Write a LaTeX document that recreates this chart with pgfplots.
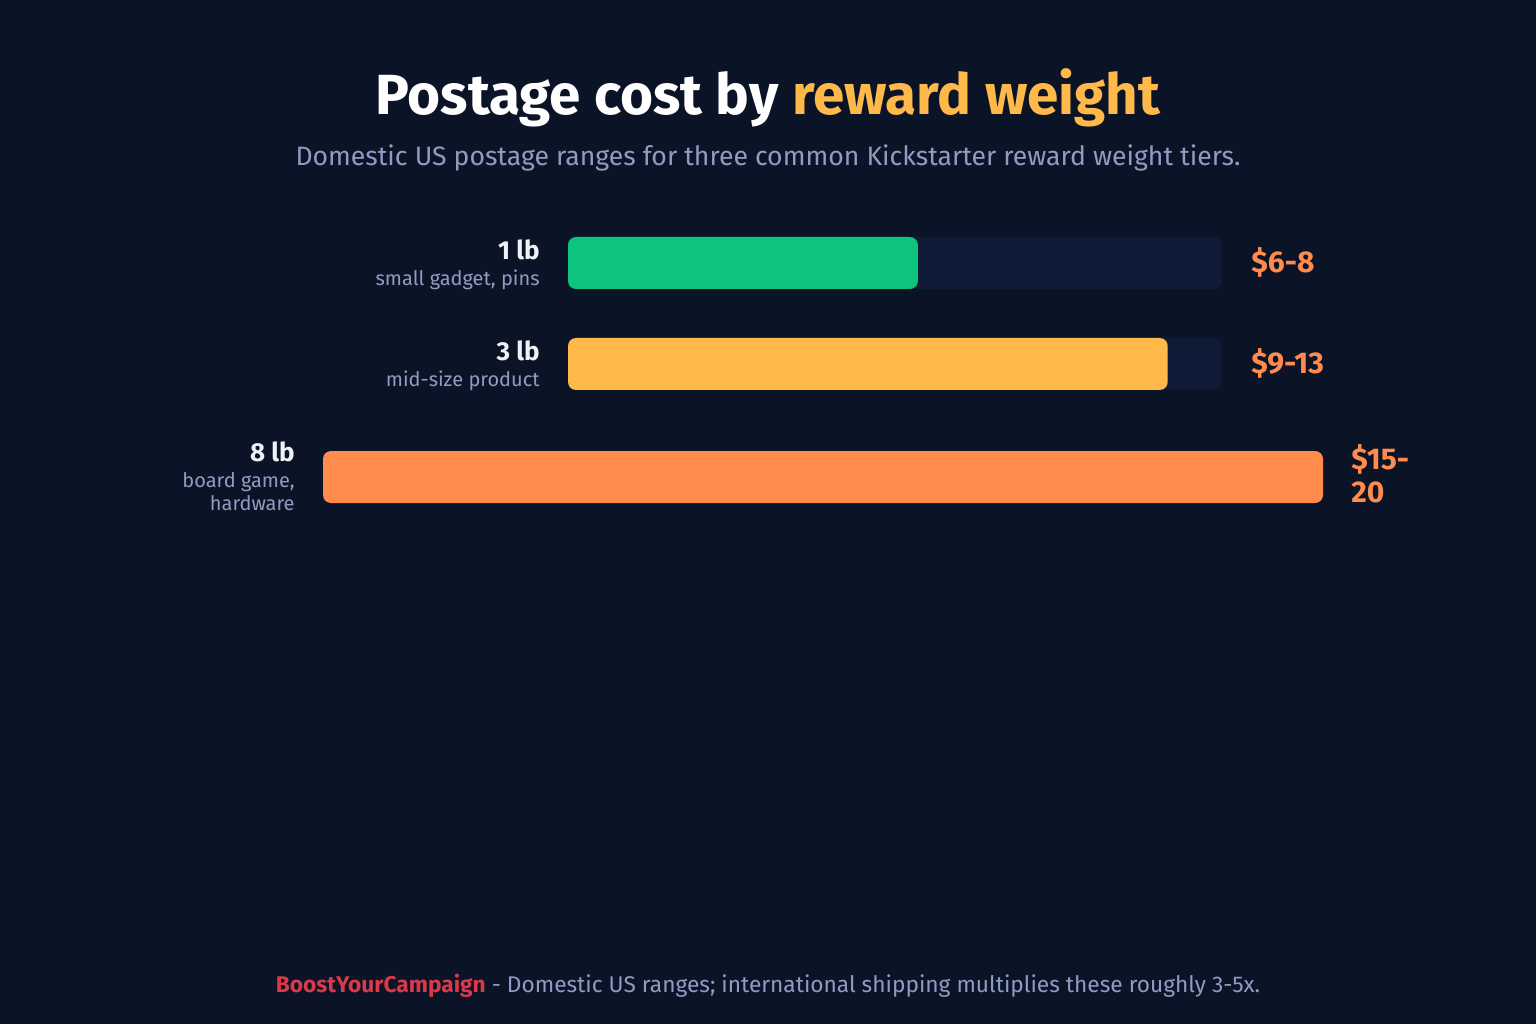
\documentclass[border=0pt]{standalone}
\usepackage{fontspec}
\setmainfont{Fira Sans}
\usepackage{pgfplots}
\pgfplotsset{compat=1.18}
\definecolor{bg}{HTML}{0B1427}
\definecolor{track}{HTML}{0E1A36}
\definecolor{cgreen}{HTML}{0CC47E}
\definecolor{cyellow}{HTML}{FFB84A}
\definecolor{corange}{HTML}{FF8C4C}
\definecolor{muted}{HTML}{8E9CC2}
\definecolor{lbl}{HTML}{EEF2F8}
\definecolor{cred}{HTML}{D9394A}
\begin{document}
\begin{tikzpicture}[x=1pt,y=1pt]
\fill[bg] (0,0) rectangle (768,512);
% titles
\node[anchor=base, inner sep=0] at (384,454.5) {\fontsize{28.3}{32}\selectfont\bfseries\color{white}Postage cost by \textcolor{cyellow}{reward weight}};
\node[anchor=base, inner sep=0] at (384,429) {\fontsize{13.3}{15}\selectfont\color{muted}Domestic US postage ranges for three common Kickstarter reward weight tiers.};
% rows 1 and 2
\begin{axis}[at={(284pt,405.75pt)}, anchor=north west, scale only axis,
  width=327pt, height=101pt, axis lines=none, xmin=0, xmax=100,
  ymin=0.5, ymax=2.5, y dir=reverse, clip=false,
  every axis plot/.append style={xbar, bar width=26pt, bar shift=0pt, draw=none, rounded corners=4pt}]
\addplot[fill=track] coordinates {(100,1) (100,2)};
\addplot[fill=cgreen] coordinates {(53.5,1)};
\addplot[fill=cyellow] coordinates {(91.7,2)};
\end{axis}
% row 3
\begin{axis}[at={(161.5pt,298.75pt)}, anchor=north west, scale only axis,
  width=500pt, height=50.5pt, axis lines=none, xmin=0, xmax=100,
  ymin=2.5, ymax=3.5, y dir=reverse, clip=false,
  every axis plot/.append style={xbar, bar width=26pt, bar shift=0pt, draw=none, rounded corners=4pt}]
\addplot[fill=track] coordinates {(100,3)};
\addplot[fill=corange] coordinates {(100,3)};
\end{axis}
% labels
\begin{scope}[every node/.style={inner sep=0}]
\node[anchor=base east] at (270,382) {\fontsize{13}{15}\selectfont\bfseries\color{lbl}1 lb};
\node[anchor=base east] at (270,369) {\fontsize{10}{11}\selectfont\color{muted}small gadget, pins};
\node[anchor=base east] at (270,331.5) {\fontsize{13}{15}\selectfont\bfseries\color{lbl}3 lb};
\node[anchor=base east] at (270,318.5) {\fontsize{10}{11}\selectfont\color{muted}mid-size product};
\node[anchor=base east] at (147.5,281) {\fontsize{13}{15}\selectfont\bfseries\color{lbl}8 lb};
\node[anchor=base east] at (147.5,268) {\fontsize{10}{11}\selectfont\color{muted}board game,};
\node[anchor=base east] at (147.5,256.5) {\fontsize{10}{11}\selectfont\color{muted}hardware};
\node[anchor=base west] at (625.5,375.5) {\fontsize{15}{15}\selectfont\bfseries\color{corange}\$6-8};
\node[anchor=base west] at (625.5,325) {\fontsize{15}{15}\selectfont\bfseries\color{corange}\$9-13};
\node[anchor=base west] at (675.5,277) {\fontsize{15}{15}\selectfont\bfseries\color{corange}\$15-};
\node[anchor=base west] at (675.5,260.5) {\fontsize{15}{15}\selectfont\bfseries\color{corange}20};
\node[anchor=base] at (384,16) {\fontsize{11.35}{13}\selectfont\textcolor{cred}{\bfseries BoostYourCampaign}\color{muted}\ - Domestic US ranges; international shipping multiplies these roughly 3-5x.};
\end{scope}
\end{tikzpicture}
\end{document}
